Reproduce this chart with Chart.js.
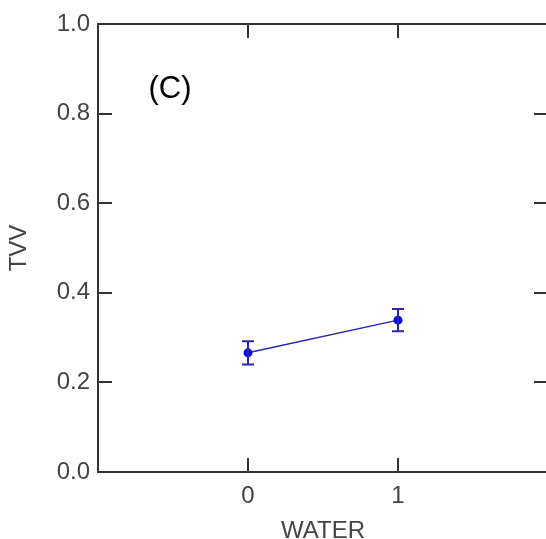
<!DOCTYPE html>
<html>
<head>
<meta charset="utf-8">
<script src="https://cdn.jsdelivr.net/npm/chart.js@4"></script>
<style>
  html, body { margin: 0; padding: 0; background: #ffffff; overflow: hidden; }
  #wrap { width: 560px; height: 560px; }
</style>
</head>
<body>
<div id="wrap"><canvas id="c" width="560" height="560"></canvas></div>
<script>
// ---- data ----
const waterValues = [0, 1];
const tvvMeans = [0.266, 0.339];
const tvvErrors = [0.026, 0.025];
const xTickValues = [0, 1];
const yTickValues = [0.0, 0.2, 0.4, 0.6, 0.8, 1.0];
const panelLabel = '(C)';
const xTitle = 'WATER';
const yTitle = 'TVV';

const axisColor = '#333333';
const labelColor = '#444444';
const seriesLine = '#2626b0';
const seriesPoint = '#0a0ae6';

const points = waterValues.map((x, i) => ({ x: x, y: tvvMeans[i] }));

const framePlugin = {
  id: 'frame',
  afterDatasetsDraw(chart) {
    const { ctx, chartArea: a, scales } = chart;
    const xs = scales.x, ys = scales.y;
    ctx.save();
    // error bars
    ctx.strokeStyle = seriesLine;
    ctx.lineWidth = 2;
    waterValues.forEach((xv, i) => {
      const px = xs.getPixelForValue(xv);
      const top = ys.getPixelForValue(tvvMeans[i] + tvvErrors[i]);
      const bot = ys.getPixelForValue(tvvMeans[i] - tvvErrors[i]);
      ctx.beginPath();
      ctx.moveTo(px, top); ctx.lineTo(px, bot);
      ctx.moveTo(px - 6, top); ctx.lineTo(px + 6, top);
      ctx.moveTo(px - 6, bot); ctx.lineTo(px + 6, bot);
      ctx.stroke();
    });
    // frame
    ctx.strokeStyle = axisColor;
    ctx.lineWidth = 2;
    ctx.strokeRect(a.left, a.top, a.right - a.left, a.bottom - a.top);
    // inward ticks
    const tl = 14;
    ctx.beginPath();
    yTickValues.forEach(v => {
      const py = Math.round(ys.getPixelForValue(v));
      ctx.moveTo(a.left, py); ctx.lineTo(a.left + tl, py);
      ctx.moveTo(a.right, py); ctx.lineTo(a.right - tl, py);
    });
    xTickValues.forEach(v => {
      const px = Math.round(xs.getPixelForValue(v));
      ctx.moveTo(px, a.bottom); ctx.lineTo(px, a.bottom - tl);
      ctx.moveTo(px, a.top); ctx.lineTo(px, a.top + tl);
    });
    ctx.stroke();
    // panel label
    ctx.fillStyle = '#000000';
    ctx.font = '31px "Liberation Sans", Arial, sans-serif';
    ctx.textAlign = 'center';
    ctx.textBaseline = 'middle';
    ctx.fillText(panelLabel, xs.getPixelForValue(-0.52), ys.getPixelForValue(0.855));
    ctx.restore();
  }
};

new Chart(document.getElementById('c'), {
  type: 'line',
  data: {
    datasets: [{
      data: points,
      borderColor: seriesLine,
      borderWidth: 1.5,
      backgroundColor: seriesPoint,
      pointBackgroundColor: seriesPoint,
      pointBorderColor: seriesPoint,
      pointRadius: 4.5,
      pointBorderWidth: 0,
      tension: 0,
      fill: false
    }]
  },
  options: {
    responsive: false,
    animation: false,
    devicePixelRatio: 1,
    layout: { padding: { top: 24, right: 12, left: 0, bottom: 0 } },
    plugins: { legend: { display: false }, tooltip: { enabled: false } },
    scales: {
      x: {
        type: 'linear',
        min: -1, max: 2,
        grid: { display: false, drawTicks: false },
        border: { display: false },
        afterBuildTicks(s) { s.ticks = xTickValues.map(v => ({ value: v })); },
        afterFit(s) { s.height = 88; },
        ticks: {
          color: labelColor,
          padding: 10,
          font: { family: '"Liberation Sans", Arial, sans-serif', size: 24 },
          callback: v => String(v)
        },
        title: {
          display: true, text: xTitle, color: labelColor,
          font: { family: '"Liberation Sans", Arial, sans-serif', size: 24 },
          padding: { top: 0, bottom: 14 }
        }
      },
      y: {
        type: 'linear',
        min: 0, max: 1,
        grid: { display: false, drawTicks: false },
        border: { display: false },
        afterBuildTicks(s) { s.ticks = yTickValues.map(v => ({ value: v })); },
        afterFit(s) { s.width = 98; },
        ticks: {
          color: labelColor,
          padding: 8,
          font: { family: '"Liberation Sans", Arial, sans-serif', size: 24 },
          callback: v => Number(v).toFixed(1)
        },
        title: {
          display: true, text: yTitle, color: labelColor,
          font: { family: '"Liberation Sans", Arial, sans-serif', size: 24 },
          padding: { top: 5, bottom: 0 }
        }
      }
    }
  },
  plugins: [framePlugin]
});
</script>
</body>
</html>
